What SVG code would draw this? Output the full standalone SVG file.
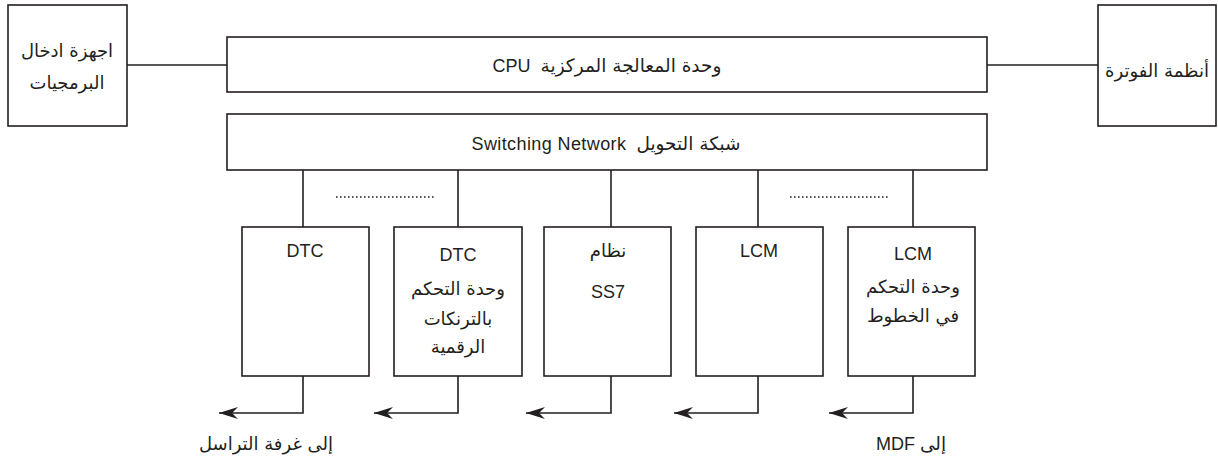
<svg xmlns="http://www.w3.org/2000/svg" width="1218" height="467" viewBox="0 0 1218 467">
<defs>
<style>
.box{fill:#fff;stroke:#231f20;stroke-width:1.6}
.ln{fill:none;stroke:#231f20;stroke-width:1.6}
.dot{fill:none;stroke:#231f20;stroke-width:1.6;stroke-dasharray:1.6 2.4}
.ar{font-family:"DejaVu Sans","Noto Sans",sans-serif;font-size:18px;fill:#231f20;text-anchor:middle}
.la{font-family:"Liberation Sans",Arial,sans-serif;font-size:18px;fill:#231f20;text-anchor:middle}
.mix{font-family:"Liberation Sans","DejaVu Sans",sans-serif;font-size:18px;fill:#231f20;text-anchor:middle;white-space:pre}
.at{font-family:"DejaVu Sans",sans-serif;font-size:18.5px}
</style>
<marker id="arr" markerWidth="22" markerHeight="14" refX="20" refY="7" orient="auto" markerUnits="userSpaceOnUse">
<path d="M20,7 L1,1 L7,7 L1,13 Z" fill="#231f20"/>
</marker>
</defs>
<rect width="1218" height="467" fill="#fff"/>
<g id="connectors">
<line class="ln" x1="127" y1="65" x2="227" y2="65"/>
<line class="ln" x1="987" y1="65" x2="1098" y2="65"/>
<line class="ln" x1="303" y1="170" x2="303" y2="227"/>
<line class="ln" x1="458" y1="170" x2="458" y2="227"/>
<line class="ln" x1="611" y1="170" x2="611" y2="227"/>
<line class="ln" x1="758" y1="170" x2="758" y2="227"/>
<line class="ln" x1="913" y1="170" x2="913" y2="227"/>
<path class="ln" d="M303,376 V413 H219" marker-end="url(#arr)"/>
<path class="ln" d="M458,376 V413 H374" marker-end="url(#arr)"/>
<path class="ln" d="M611,376 V413 H526" marker-end="url(#arr)"/>
<path class="ln" d="M758,376 V413 H674" marker-end="url(#arr)"/>
<path class="ln" d="M913,376 V413 H829" marker-end="url(#arr)"/>
<line class="dot" x1="336" y1="197" x2="434" y2="197"/>
<line class="dot" x1="790" y1="197" x2="888" y2="197"/>
</g>
<g id="input">
<rect class="box" x="8" y="5" width="119" height="121"/>
<text class="ar" x="67" y="57" direction="rtl">اجهزة ادخال</text>
<text class="ar" x="67" y="89" direction="rtl">البرمجيات</text>
</g>
<g id="cpu">
<rect class="box" x="227" y="37" width="760" height="55"/>
<text class="mix" x="607" y="72" direction="rtl"><tspan class="at">وحدة المعالجة المركزية</tspan>  CPU</text>
</g>
<g id="billing">
<rect class="box" x="1098" y="5" width="118" height="121"/>
<text class="ar" x="1157" y="77" direction="rtl">أنظمة الفوترة</text>
</g>
<g id="switch">
<rect class="box" x="227" y="114" width="760" height="56"/>
<text class="mix" x="606" y="150" direction="rtl" letter-spacing="0.4"><tspan class="at">شبكة التحويل</tspan>  Switching Network</text>
</g>
<g id="dtc1">
<rect class="box" x="242" y="227" width="127" height="149"/>
<text class="la" x="305" y="257">DTC</text>
</g>
<g id="dtc2">
<rect class="box" x="394" y="227" width="128" height="149"/>
<text class="la" x="458" y="261">DTC</text>
<text class="ar" x="458" y="295" direction="rtl">وحدة التحكم</text>
<text class="ar" x="458" y="325" direction="rtl">بالترنكات</text>
<text class="ar" x="458" y="353" direction="rtl">الرقمية</text>
</g>
<g id="ss7">
<rect class="box" x="544" y="227" width="127" height="149"/>
<text class="ar" x="608" y="257" direction="rtl">نظام</text>
<text class="la" x="608" y="298">SS7</text>
</g>
<g id="lcm1">
<rect class="box" x="696" y="227" width="127" height="149"/>
<text class="la" x="759" y="257">LCM</text>
</g>
<g id="lcm2">
<rect class="box" x="848" y="227" width="127" height="149"/>
<text class="la" x="913" y="260">LCM</text>
<text class="ar" x="913" y="293" direction="rtl">وحدة التحكم</text>
<text class="ar" x="913" y="322" direction="rtl">في الخطوط</text>
</g>
<g id="labels">
<text class="ar" x="266" y="450" direction="rtl">إلى غرفة التراسل</text>
<text class="mix" x="911" y="450" direction="rtl"><tspan class="at">إلى</tspan> MDF</text>
</g>
</svg>
